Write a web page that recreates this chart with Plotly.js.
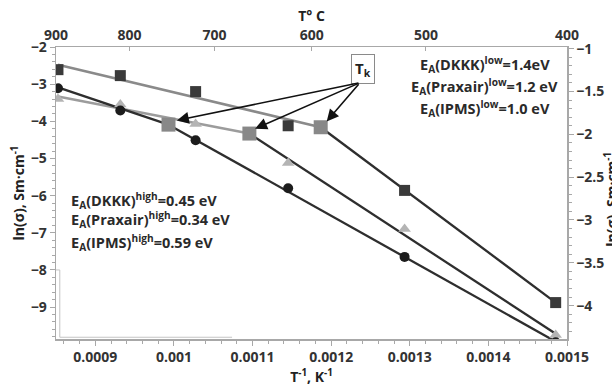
<!DOCTYPE html>
<html>
<head>
<meta charset="utf-8">
<script src="https://cdn.plot.ly/plotly-3.0.1.min.js"></script>
<style>html,body{margin:0;padding:0;background:#fff;}#chart{width:612px;height:390px;}</style>
</head>
<body>
<div id="chart"></div>
<script>
// ---- data ----
const seriesNames = ['DKKK', 'Praxair', 'IPMS'];
const tempsC = [900, 800, 700, 600, 500, 400];
const invT = [0.0008525, 0.0009318, 0.0010276, 0.0011453, 0.0012934, 0.0014856];
const dkkk = [-2.61, -2.77, -3.20, -4.12, -5.86, -8.88];
const praxair = [-3.40, -3.55, -4.07, -5.12, -6.90, -9.75];
const ipms = [-3.11, -3.71, -4.51, -5.80, -7.65, -9.95];
// break points (T_k) per series: DKKK, Praxair, IPMS
const tkX = [0.0011867, 0.0010960, 0.0009931];
const tkY = [-4.16, -4.33, -4.09];
// fitted lines: value at first (900 C) and last (400 C) temperature
const fitStartY = [-2.48, -3.33, -3.085];
const fitEndY = [-8.88, -9.72, -9.93];
// top axis (temperature) ticks as drawn in the reference
const topTickPos = [0.00085, 0.0009435, 0.0010515, 0.0011753, 0.0013205, 0.0015];
const topTickLabels = ['900', '800', '700', '600', '500', '400'];
const highLabels = ['E<sub>A</sub>(DKKK)<sup>high</sup>=0.45 eV', 'E<sub>A</sub>(Praxair)<sup>high</sup>=0.34 eV', 'E<sub>A</sub>(IPMS)<sup>high</sup>=0.59 eV'];
const lowLabels = ['E<sub>A</sub>(DKKK)<sup>low</sup>=1.4eV', 'E<sub>A</sub>(Praxair)<sup>low</sup>=1.2 eV', 'E<sub>A</sub>(IPMS)<sup>low</sup>=1.0 eV'];

const seriesVals = [dkkk, praxair, ipms];
const highLineColors = ['#8a8a8a', '#9c9c9c', '#2e2e2e'];
const lowLineColor = '#2e2e2e';
const markerStyles = [
  {symbol: 'square', size: 11, color: '#3a3a3a'},
  {symbol: 'triangle-up', size: 11, color: '#b4b4b4'},
  {symbol: 'circle', size: 10, color: '#1c1c1c'}
];

const traces = [];
const last = invT.length - 1;
for (let i = 0; i < 3; i++) {
  traces.push({x: [invT[0], tkX[i]], y: [fitStartY[i], tkY[i]], mode: 'lines',
    line: {color: highLineColors[i], width: 2.5}, hoverinfo: 'skip', showlegend: false});
  traces.push({x: [tkX[i], invT[last]], y: [tkY[i], fitEndY[i]], mode: 'lines',
    line: {color: lowLineColor, width: 2.3}, hoverinfo: 'skip', showlegend: false});
}
for (let i = 0; i < 3; i++) {
  traces.push({x: invT, y: seriesVals[i], mode: 'markers', name: seriesNames[i],
    marker: markerStyles[i], showlegend: false});
}
traces.push({x: tkX, y: tkY, mode: 'markers', name: 'T_k',
  marker: {symbol: 'square', size: 14, color: '#888888'}, showlegend: false});
// dummy trace so that the secondary axes are drawn
traces.push({x: [null], y: [null], xaxis: 'x2', yaxis: 'y2', mode: 'markers', hoverinfo: 'skip', showlegend: false});

const tickFont = {family: 'Open Sans', size: 14, color: '#333333', weight: 'bold'};
const titleFont = {family: 'Open Sans', size: 14, color: '#222222', weight: 'bold'};
const annFont = {family: 'Open Sans', size: 14.5, color: '#2a2a2a', weight: 'bold'};
const axLine = '#a8a8a8';

const annotations = [];
const lowY = [0.9393, 0.865, 0.7909];
const highY = [0.4741, 0.408, 0.3301];
for (let i = 0; i < 3; i++) {
  annotations.push({xref: 'paper', yref: 'paper', x: 0.839, y: lowY[i], xanchor: 'center', yanchor: 'middle',
    text: lowLabels[i], showarrow: false, font: annFont});
  annotations.push({xref: 'paper', yref: 'paper', x: 0.026, y: highY[i], xanchor: 'left', yanchor: 'middle',
    text: highLabels[i], showarrow: false, font: annFont});
}
// T_k label box
annotations.push({xref: 'paper', yref: 'paper', x: 0.6017, y: 0.9256, xanchor: 'center', yanchor: 'middle',
  text: 'T<sub>k</sub>', showarrow: false, font: {family: 'Open Sans', size: 15, color: '#222', weight: 'bold'},
  bordercolor: '#8a8a8a', borderwidth: 1, borderpad: 3, bgcolor: '#ffffff'});
// arrows pointing at the break points
const arrowTipX = [0.0010037, 0.0011032, 0.0011943];
const arrowTipY = [-3.976, -4.199, -4.003];
for (let i = 0; i < 3; i++) {
  annotations.push({xref: 'x', yref: 'y', axref: 'x', ayref: 'y', x: arrowTipX[i], y: arrowTipY[i],
    ax: 0.0012366, ay: -2.961, text: '', showarrow: true, arrowhead: 2, arrowsize: 1.5,
    arrowwidth: 1.6, arrowcolor: '#111111', standoff: 0, startstandoff: 0});
}
// right axis title (partly cut by the image edge, as in the reference)
annotations.push({xref: 'paper', yref: 'paper', x: 1.086, y: 0.48, xanchor: 'center', yanchor: 'middle',
  text: 'ln(σ), Sm·cm<sup>-1</sup>', textangle: -90, showarrow: false, font: titleFont});

const layout = {
  width: 612, height: 390,
  margin: {l: 56, r: 45, t: 47, b: 51},
  paper_bgcolor: '#ffffff', plot_bgcolor: '#ffffff',
  showlegend: false,
  xaxis: {
    range: [0.00085, 0.0015], tick0: 0.0009, dtick: 0.0001, tickformat: '~g',
    showgrid: false, zeroline: false, showline: true, linecolor: axLine, linewidth: 1.5,
    ticks: 'outside', ticklen: 5, tickcolor: axLine, tickfont: tickFont,
    minor: {dtick: 0.00002, ticks: 'outside', ticklen: 3, tickcolor: axLine, showgrid: false},
    title: {text: 'T<sup>-1</sup>, K<sup>-1</sup>', font: titleFont, standoff: 4}
  },
  xaxis2: {
    overlaying: 'x', side: 'top', anchor: 'y', range: [0.00085, 0.0015],
    tickmode: 'array', tickvals: topTickPos, ticktext: topTickLabels,
    showgrid: false, zeroline: false, showline: true, linecolor: axLine, linewidth: 1.5,
    ticks: 'inside', ticklen: 4, tickcolor: axLine, tickfont: tickFont,
    title: {text: 'T° C', font: titleFont, standoff: 0}
  },
  yaxis: {
    range: [-9.86, -2], dtick: 1,
    showgrid: false, zeroline: false, showline: true, linecolor: axLine, linewidth: 1.5,
    ticks: 'outside', ticklen: 5, tickcolor: axLine, tickfont: tickFont,
    minor: {dtick: 0.2, ticks: 'outside', ticklen: 3, tickcolor: axLine, showgrid: false},
    title: {text: 'ln(σ), Sm·cm<sup>-1</sup>', font: titleFont, standoff: 3}
  },
  yaxis2: {
    overlaying: 'y', side: 'right', anchor: 'x', range: [-4.39, -0.98], dtick: 0.5,
    showgrid: false, zeroline: false, showline: true, linecolor: axLine, linewidth: 1.5,
    ticks: 'outside', ticklen: 5, tickcolor: axLine, tickfont: tickFont,
    minor: {dtick: 0.1, ticks: 'outside', ticklen: 3, tickcolor: axLine, showgrid: false}
  },
  shapes: [
    {type: 'line', xref: 'paper', yref: 'paper', x0: 0.0074, x1: 0.0074, y0: 0.006, y1: 0.2365, line: {color: '#c4c4c4', width: 1}},
    {type: 'line', xref: 'paper', yref: 'paper', x0: 0.0074, x1: 0.3446, y0: 0.006, y1: 0.006, line: {color: '#c4c4c4', width: 1}},
    {type: 'line', xref: 'paper', yref: 'paper', x0: 0, x1: 0.0074, y0: 0.2365, y1: 0.2365, line: {color: '#c4c4c4', width: 1}}
  ],
  annotations: annotations
};

Plotly.newPlot('chart', traces, layout, {staticPlot: true, displayModeBar: false});
</script>
</body>
</html>
